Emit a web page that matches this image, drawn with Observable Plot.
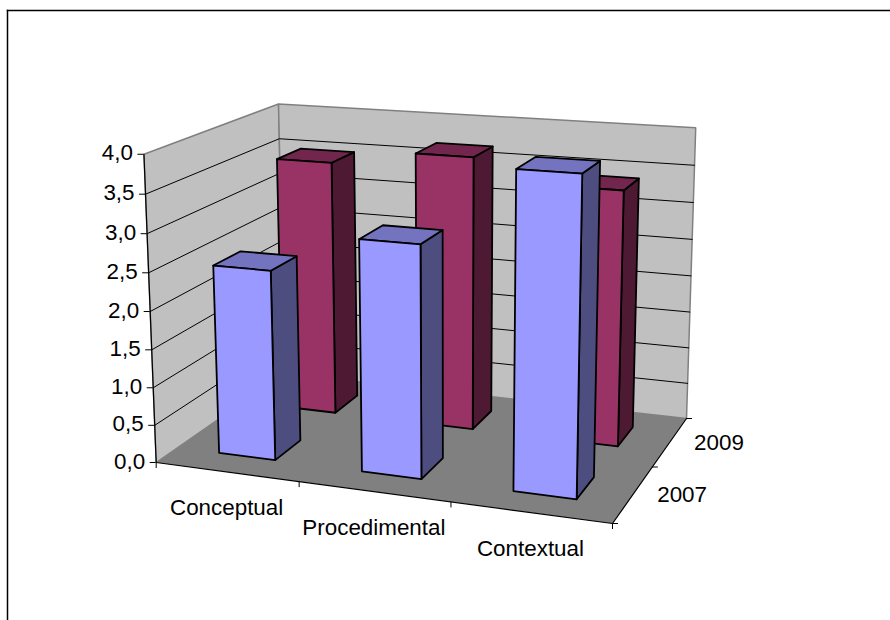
<!DOCTYPE html>
<html>
<head>
<meta charset="utf-8">
<script src="https://cdn.jsdelivr.net/npm/d3@7"></script>
<script src="https://cdn.jsdelivr.net/npm/@observablehq/plot@0.6"></script>
<style>
  html, body { margin: 0; padding: 0; background: #fff; overflow: hidden; }
  svg { display: block; }
</style>
</head>
<body>
<script>
// Chart values
const categories = ["Conceptual", "Procedimental", "Contextual"];
const years = ["2007", "2009"];
const values2007 = [2.5, 3.0, 4.0];
const values2009 = [3.5, 3.7, 3.4];
const valueTicks = [0, 0.5, 1, 1.5, 2, 2.5, 3, 3.5, 4];
const maxValue = 4;

// Perspective camera: (category axis, depth axis, value) to page pixels
const camera = [
  [402.7, 171.24, -4.5, 155.7],
  [15.2, -32.6, -78.6, 462],
  [-0.08758, 0.1512, -0.01, 1]
];
function project(u, v, w) {
  const [a, b, c] = camera.map(r => r[0] * u + r[1] * v + r[2] * w + r[3]);
  return [a / c, b / c];
}

// Palette of the 3D faces
const palette = {
  wall: "#c0c0c0", floor: "#808080", edge: "#808080",
  "2007": {front: "#9999ff", top: "#7373bf", side: "#4d4d80"},
  "2009": {front: "#993366", top: "#73264d", side: "#4d1933"}
};

// Bar footprint on the floor: gap width of 150% along both axes
const gapRatio = 1.5;
const cellU = 1 / categories.length, cellV = 1 / years.length;
const barU = cellU / (1 + gapRatio), barV = cellV / (1 + gapRatio);

// Polygons are flattened to rows, one row per vertex
function polygons(faces) {
  return faces.flatMap((f, id) => f.pts.map(p => {
    const [x, y] = project(...p);
    return {id, x, y, fill: f.fill};
  }));
}

const backdrop = polygons([
  {fill: palette.wall, pts: [[0,0,0],[0,1,0],[0,1,maxValue],[0,0,maxValue]]},
  {fill: palette.wall, pts: [[0,1,0],[1,1,0],[1,1,maxValue],[0,1,maxValue]]}
]);
const floor = polygons([{fill: palette.floor, pts: [[0,0,0],[1,0,0],[1,1,0],[0,1,0]]}]);

// Back row first so that the nearer bars cover it
const series = [
  {year: "2009", row: 1, values: values2009},
  {year: "2007", row: 0, values: values2007}
];
const bars = polygons(series.flatMap(s => s.values.flatMap((value, i) => {
  const u0 = i * cellU + (cellU - barU) / 2, u1 = u0 + barU;
  const v0 = s.row * cellV + (cellV - barV) / 2, v1 = v0 + barV;
  const c = palette[s.year];
  return [
    {fill: c.side, pts: [[u1,v0,0],[u1,v1,0],[u1,v1,value],[u1,v0,value]]},
    {fill: c.top, pts: [[u0,v0,value],[u1,v0,value],[u1,v1,value],[u0,v1,value]]},
    {fill: c.front, pts: [[u0,v0,0],[u1,v0,0],[u1,v0,value],[u0,v0,value]]}
  ];
})));

// Gridlines run along the left wall, then along the back wall
const grid = valueTicks.filter(t => t > 0 && t < maxValue).flatMap((t, id) =>
  [[0,0,t],[0,1,t],[1,1,t]].map(p => {
    const [x, y] = project(...p);
    return {id, x, y};
  }));

const polyline = pts => pts.map(p => { const [x, y] = project(...p); return {x, y}; });

const uTicks = d3.range(categories.length + 1).map(i => project(i * cellU, 0, 0));
const vTicks = d3.range(years.length + 1).map(i => project(1, i * cellV, 0));
const wTicks = valueTicks.map(t => ({t, p: project(0, 0, t)}));
const comma = t => t.toFixed(1).replace(".", ",");

const catLabels = categories.map((name, i) => {
  const [x, y] = project((i + 0.5) * cellU, 0, 0);
  return {name, x, y};
});
const yearLabels = years.map((name, i) => {
  const [x, y] = project(1, (i + 0.5) * cellV, 0);
  return {name, x, y};
});

const textStyle = {fill: "#000", fontSize: 22.4, stroke: "none"};

const chart = Plot.plot({
  width: 890,
  height: 620,
  marginLeft: 7,
  marginTop: 10,
  marginRight: 0,
  marginBottom: 0,
  style: {background: "#fff", fontFamily: "'Liberation Sans', Arial, sans-serif"},
  x: {type: "linear", domain: [7, 890], range: [7, 890], axis: null},
  y: {type: "linear", domain: [10, 620], range: [10, 620], axis: null},
  color: {type: "identity"},
  marks: [
    // chart area outline
    Plot.frame({anchor: "top", stroke: "#000", strokeWidth: 1.5}),
    Plot.frame({anchor: "left", stroke: "#000", strokeWidth: 1.5}),

    // walls
    Plot.line(backdrop, {x: "x", y: "y", z: "id", fill: "fill", stroke: palette.edge, strokeWidth: 1.5, curve: "linear-closed", strokeLinejoin: "miter"}),
    Plot.line(grid, {x: "x", y: "y", z: "id", stroke: "#000", strokeWidth: 1}),

    // floor
    Plot.line(floor, {x: "x", y: "y", z: "id", fill: "fill", stroke: "none", curve: "linear-closed"}),

    // axis lines
    Plot.line(polyline([[0,0,maxValue],[0,0,0],[1,0,0],[1,1,0]]), {x: "x", y: "y", stroke: "#000", strokeWidth: 1.2, strokeLinejoin: "miter"}),

    // bars
    Plot.line(bars, {x: "x", y: "y", z: "id", fill: "fill", stroke: "#000", strokeWidth: 1.8, curve: "linear-closed", strokeLinejoin: "round"}),

    // tick marks
    Plot.ruleY(wTicks, {y: d => d.p[1], x1: d => d.p[0] - 6, x2: d => d.p[0], stroke: "#000", strokeWidth: 1}),
    Plot.ruleX(uTicks, {x: d => d[0], y1: d => d[1], y2: d => d[1] + 6, stroke: "#000", strokeWidth: 1}),
    Plot.ruleY(vTicks, {y: d => d[1], x1: d => d[0], x2: d => d[0] + 6, stroke: "#000", strokeWidth: 1}),

    // labels
    Plot.text(wTicks, {x: d => d.p[0], y: d => d.p[1], text: d => comma(d.t), textAnchor: "end", dx: -11, dy: -1, ...textStyle}),
    Plot.text(catLabels, {x: "x", y: "y", text: "name", dy: 36, ...textStyle}),
    Plot.text(yearLabels, {x: "x", y: "y", text: "name", textAnchor: "start", dx: 24, dy: 1, ...textStyle})
  ]
});
document.body.appendChild(chart);
</script>
</body>
</html>
